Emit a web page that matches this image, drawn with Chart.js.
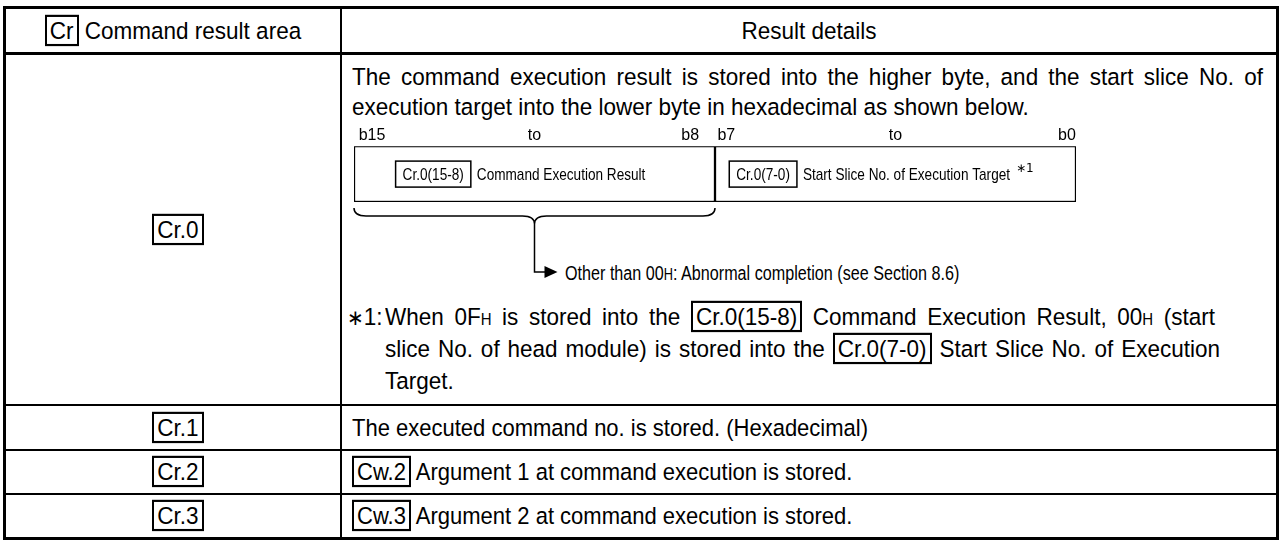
<!DOCTYPE html>
<html><head><meta charset="utf-8">
<script src="https://cdn.jsdelivr.net/npm/chart.js@4.4.1/dist/chart.umd.min.js"></script>
<style>
html,body{margin:0;padding:0;background:#fff;}
#page{position:relative;width:1281px;height:541px;overflow:hidden;font-family:"Liberation Sans",Arial,sans-serif;color:#000;background:#fff;}
.ln{position:absolute;background:#000;}
.t{position:absolute;white-space:nowrap;font-size:22.5px;line-height:30px;height:30px;transform:scaleY(1.08);}
.r{font-size:22px;}
.c{text-align:center;}
.j{text-align:justify;text-align-last:justify;}
.bx{display:inline-block;border:2px solid #000;padding:0 3px;line-height:25px;}
.sub{font-size:15px;}
.ast{font-family:"DejaVu Sans",sans-serif;font-size:20px;}
.nar{display:inline-block;transform:scaleX(0.85);transform-origin:left center;font-size:19px;}
</style></head><body><div id="page"></div>
<script>
// ---- data ----
const headerCode = 'Cr';
const headerLeft = 'Command result area';
const headerRight = 'Result details';
const introLines = [
  'The command execution result is stored into the higher byte, and the start slice No. of',
  'execution target into the lower byte in hexadecimal as shown below.'
];
const bitRanges = [[8, 16], [0, 8]];               // high byte, low byte (bit spans)
const byteCodes = ['Cr.0(15-8)', 'Cr.0(7-0)'];
const byteNames = ['Command Execution Result', 'Start Slice No. of Execution Target'];
const byteMarks = ['', '\u22171'];
const bitTickLabels = ['b15', 'to', 'b8', 'b7', 'to', 'b0'];
const bitTickPos = [15.6, 12, 8.55, 7.75, 4, 0.2];
const arrowNote = 'Other than 00<span class="sub">H</span>: Abnormal completion (see Section 8.6)';
const footMark = '<span class="ast">\u2217</span>1:';
const footLines = [
  'When 0F<span class="sub">H</span> is stored into the <span class="bx">Cr.0(15-8)</span> Command Execution Result, 00<span class="sub">H</span> (start',
  'slice No. of head module) is stored into the <span class="bx">Cr.0(7-0)</span> Start Slice No. of Execution',
  'Target.'
];
const rowCodes = ['Cr.0', 'Cr.1', 'Cr.2', 'Cr.3'];
const rowDetails = [
  null,
  'The executed command no. is stored. (Hexadecimal)',
  '<span class="bx">Cw.2</span> Argument 1 at command execution is stored.',
  '<span class="bx">Cw.3</span> Argument 2 at command execution is stored.'
];

// ---- layout ----
const page = document.getElementById('page');
function line(x, y, w, h) {
  const d = document.createElement('div'); d.className = 'ln';
  d.style.cssText = `left:${x}px;top:${y}px;width:${w}px;height:${h}px;`;
  page.appendChild(d);
}
function text(html, x, cy, w, cls) {
  const d = document.createElement('div'); d.className = 't' + (cls ? ' ' + cls : '');
  d.style.left = x + 'px'; d.style.top = (cy - 15) + 'px';
  if (w) d.style.width = w + 'px';
  d.innerHTML = html; page.appendChild(d); return d;
}
// frame
line(3, 6, 1276, 3);      // top
line(3, 537, 1276, 3);    // bottom
line(3, 6, 3, 534);       // left
line(1276, 6, 3, 534);    // right
line(3, 52, 1276, 3);     // header bottom
line(340, 6, 2, 534);     // column divider
const rowLineY = [404, 449, 493];
rowLineY.forEach(y => line(3, y, 1276, 2));

// header
text(`<span class="bx">${headerCode}</span> ${headerLeft}`, 6, 31, 334, 'c');
text(headerRight, 342, 31, 934, 'c');

// left column codes
const rowCenters = [230, 428, 472, 516];
rowCodes.forEach((c, i) => text(`<span class="bx">${c}</span>`, 6, rowCenters[i], 344, 'c'));
rowDetails.forEach((d, i) => { if (d) text(d, 352, rowCenters[i], null, 'r'); });

// Cr.0 details
text(introLines[0], 352, 77, 911, 'j');
text(introLines[1], 352, 107);
text(`<span class="nar">${arrowNote}</span>`, 565, 272);
text(footMark, 347, 317);
text(footLines[0], 385, 317, 830, 'j');
text(footLines[1], 385, 349, 835, 'j');
text(footLines[2], 385, 381);

// ---- bit diagram via Chart.js ----
const canvas = document.createElement('canvas');
canvas.width = 760; canvas.height = 170;
canvas.style.cssText = 'position:absolute;left:342px;top:125px;width:760px;height:170px;';
page.appendChild(canvas);

const NARROW = 0.85;
const bytePlugin = {
  id: 'byteLabels',
  afterDatasetsDraw(chart) {
    const ctx = chart.ctx, xs = chart.scales.x, a = chart.chartArea;
    const cy = (a.top + a.bottom) / 2;
    ctx.save();
    ctx.fillStyle = '#000'; ctx.strokeStyle = '#000';
    ctx.textBaseline = 'middle';
    const fnt = '16px "Liberation Sans", Arial, sans-serif';
    bitRanges.forEach((r, i) => {
      const x0 = xs.getPixelForValue(r[1]), x1 = xs.getPixelForValue(r[0]);
      ctx.font = fnt;
      const wc = ctx.measureText(byteCodes[i]).width * NARROW;
      const wn = ctx.measureText(byteNames[i]).width * NARROW;
      const pad = 7, gap = 6;
      let wm = 0;
      if (byteMarks[i]) { ctx.font = '12px "DejaVu Sans", sans-serif'; wm = ctx.measureText(byteMarks[i]).width + 6; }
      const total = wc + 2 * pad + gap + wn + wm;
      let sx = (x0 + x1) / 2 - total / 2 - 14;
      ctx.lineWidth = 1.5;
      ctx.strokeRect(sx, cy - 13, wc + 2 * pad, 26);
      ctx.font = fnt;
      ctx.save(); ctx.translate(sx + pad, cy + 1); ctx.scale(NARROW, 1.05); ctx.fillText(byteCodes[i], 0, 0); ctx.restore();
      sx += wc + 2 * pad + gap;
      ctx.save(); ctx.translate(sx, cy + 1); ctx.scale(NARROW, 1.05); ctx.fillText(byteNames[i], 0, 0); ctx.restore();
      sx += wn + 6;
      if (byteMarks[i]) { ctx.font = '12px "DejaVu Sans", sans-serif'; ctx.fillText(byteMarks[i], sx, cy - 5); }
    });
    // brace under the high byte
    const L = xs.getPixelForValue(bitRanges[0][1]), R = xs.getPixelForValue(bitRanges[0][0]);
    const C = (L + R) / 2;
    const y0 = a.bottom + 6, y1 = y0 + 8, y2 = y1 + 8, rr = 12;
    ctx.lineWidth = 1.5;
    ctx.beginPath();
    ctx.moveTo(L, y0); ctx.quadraticCurveTo(L, y1, L + rr, y1); ctx.lineTo(C - rr, y1); ctx.quadraticCurveTo(C, y1, C, y2);
    ctx.moveTo(R, y0); ctx.quadraticCurveTo(R, y1, R - rr, y1); ctx.lineTo(C + rr, y1); ctx.quadraticCurveTo(C, y1, C, y2);
    const ay = a.bottom + 70;
    ctx.moveTo(C, y2); ctx.lineTo(C, ay); ctx.lineTo(C + 12, ay);
    ctx.stroke();
    ctx.beginPath(); ctx.moveTo(C + 10, ay - 6); ctx.lineTo(C + 23, ay); ctx.lineTo(C + 10, ay + 6); ctx.closePath(); ctx.fill();
    ctx.restore();
  }
};

new Chart(canvas, {
  type: 'bar',
  data: {
    labels: ['word'],
    datasets: bitRanges.map((r, i) => ({
      label: byteNames[i], data: [r],
      backgroundColor: '#fff', borderColor: '#000', borderWidth: 1.5, borderSkipped: false,
      grouped: false, barPercentage: 1, categoryPercentage: 1
    }))
  },
  options: {
    indexAxis: 'y', responsive: false, animation: false, devicePixelRatio: 1,
    layout: { padding: { left: 12, right: 26, top: 0, bottom: 93 } },
    plugins: { legend: { display: false }, tooltip: { enabled: false } },
    scales: {
      x: {
        type: 'linear', position: 'top', min: 0, max: 16, reverse: true,
        grid: { display: false, drawTicks: false }, border: { display: false },
        afterBuildTicks: s => { s.ticks = bitTickPos.map(v => ({ value: v })); },
        ticks: {
          autoSkip: false, maxRotation: 0, padding: 1, color: '#000',
          font: { family: '"Liberation Sans Narrow", "Liberation Sans", Arial', size: 16 },
          callback: (v, i) => bitTickLabels[i]
        }
      },
      y: { display: false }
    }
  },
  plugins: [bytePlugin]
});
</script></body></html>
